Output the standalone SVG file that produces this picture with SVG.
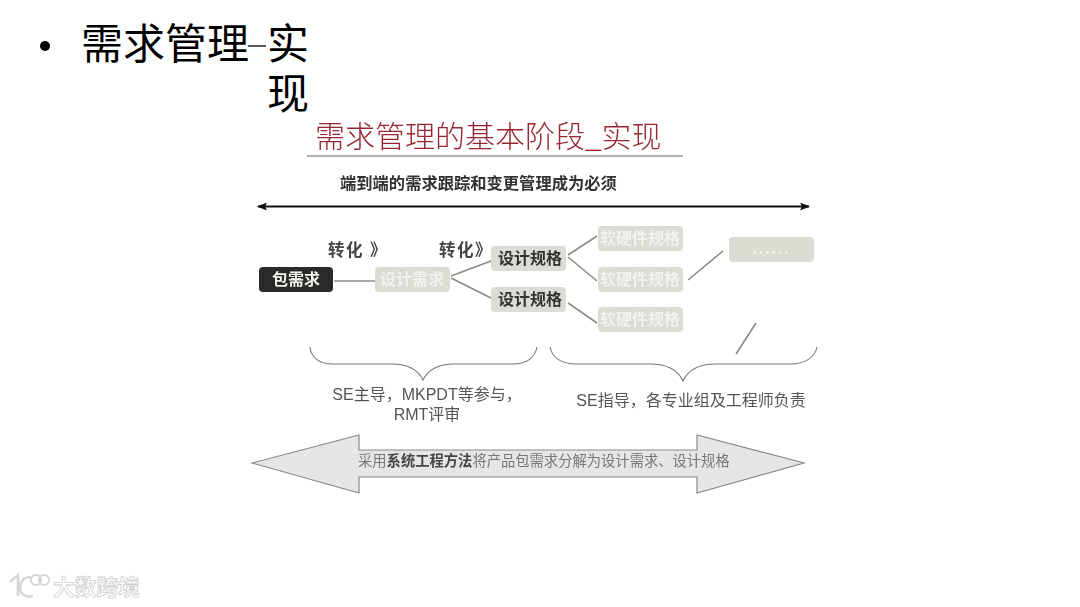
<svg xmlns="http://www.w3.org/2000/svg" width="1080" height="607" viewBox="0 0 1080 607">
<defs>
<marker id="ah" viewBox="0 0 10 8" refX="9" refY="4" markerWidth="10" markerHeight="8" markerUnits="userSpaceOnUse" orient="auto-start-reverse"><path d="M0 0L10 4L0 8L2 4Z" fill="#111"/></marker>
<filter id="soft" x="-2%" y="-2%" width="104%" height="104%"><feGaussianBlur stdDeviation="0.4"/></filter>
</defs>
<style>
text{font-family:"Noto Sans CJK SC","Liberation Sans",sans-serif}
.s{font-family:"Liberation Sans","Noto Sans CJK SC",sans-serif}
.c{stroke:#8a8a86;stroke-width:1.6;fill:none}
.b{stroke:#777;stroke-width:1.1;fill:none}
.box{fill:#dcdcd5}
.lt{fill:#f3f3ee;font-size:16px;font-weight:700;text-anchor:middle}
.dk{fill:#333;font-size:16px;font-weight:700;text-anchor:middle}
.lb{fill:#444;font-size:16.5px;font-weight:700}
.g{fill:#555;font-size:16px;text-anchor:middle}
</style>
<rect width="1080" height="607" fill="#fff"/>
<g id="heading">
<circle cx="45" cy="46" r="5" fill="#000"/>
<text x="81" y="59" font-size="42" fill="#000">需求管理</text>
<line x1="248" y1="46" x2="266" y2="46" stroke="#222" stroke-width="1.500"/>
<text x="267" y="59" font-size="42" fill="#000">实</text>
<text x="267" y="109" font-size="42" fill="#000">现</text>
</g>
<g filter="url(#soft)">
<g id="title">
<text x="315" y="147" font-size="30" font-weight="300" fill="#982830">需求管理的基本阶段_实现</text>
<line x1="307" y1="156" x2="683" y2="156" stroke="#999" stroke-width="1.3"/>
<text x="340" y="189" font-size="16.3" font-weight="700" fill="#333">端到端的需求跟踪和变更管理成为必须</text>
</g>
<g id="connectors">
<line x1="258" y1="206.500" x2="809" y2="206.500" stroke="#111" stroke-width="1.800" marker-start="url(#ah)" marker-end="url(#ah)"/>
<path class="c" d="M334 281H375M451 276L491 261M451 278L491 298M568 255L597 236M568 257L597 281M568 303L597 323M688 280L723 251M736 354L756 323"/>
<path class="b" d="M310 347C311 358 320 364 332 364H392C408 364 418 370 423 380C428 370 438 364 454 364H514C526 364 535 358 537 347"/>
<path class="b" d="M550 347C552 358 562 364 576 364H650C666 364 678 370 683 381C688 370 700 364 716 364H790C804 364 815 358 817 347"/>
</g>
<g id="node-pkg"><rect x="259" y="267" width="74" height="25" rx="4" fill="#2b2b29"/><text x="296" y="285" class="lt">包需求</text></g>
<g id="node-design-req"><rect class="box" x="375" y="267" width="75" height="25" rx="4"/><text x="412" y="285" class="lt">设计需求</text></g>
<g id="node-spec-1"><rect class="box" x="491" y="246" width="75" height="25" rx="4"/><text x="530" y="264" class="dk">设计规格</text></g>
<g id="node-spec-2"><rect class="box" x="491" y="287" width="75" height="25" rx="4"/><text x="530" y="305" class="dk">设计规格</text></g>
<g id="node-hw-1"><rect class="box" x="598" y="226" width="85" height="25" rx="4"/><text x="640" y="244" class="lt">软硬件规格</text></g>
<g id="node-hw-2"><rect class="box" x="598" y="267" width="85" height="25" rx="4"/><text x="640" y="285" class="lt">软硬件规格</text></g>
<g id="node-hw-3"><rect class="box" x="598" y="307" width="85" height="25" rx="4"/><text x="640" y="325" class="lt">软硬件规格</text></g>
<g id="node-more"><rect class="box" x="729" y="237" width="85" height="25" rx="4"/><text x="771" y="254" class="lt" font-size="12" letter-spacing="1">......</text></g>
<g id="labels">
<text x="328 346 370" y="256" class="lb">转化》</text>
<text x="439 457 475" y="256" class="lb">转化》</text>
<text x="427" y="400" class="g"><tspan class="s">SE</tspan>主导，<tspan class="s">MKPDT</tspan>等参与，</text>
<text x="427" y="420" class="g"><tspan class="s">RMT</tspan>评审</text>
<text x="691" y="406" class="g"><tspan class="s">SE</tspan>指导，各专业组及工程师负责</text>
</g>
<g id="band">
<path d="M252 463L359 435V450H697V435L804 463L697 493V477H359V493Z" fill="#e6e6e6" stroke="#8a8a8a" stroke-width="1.200"/>
<text x="358" y="466" font-size="14.300" fill="#777">采用<tspan font-weight="700" fill="#444">系统工程方法</tspan>将产品包需求分解为设计需求、设计规格</text>
</g>
</g>
<g id="watermark">
<path d="M10 582L18 575V596M32 578C24 575 20 582 20 588C20 594 26 598 33 596" fill="none" stroke="#d6d6d6" stroke-width="2.500"/>
<circle cx="36" cy="580" r="5" fill="none" stroke="#d6d6d6" stroke-width="2"/>
<circle cx="44" cy="580" r="5" fill="none" stroke="#d6d6d6" stroke-width="2"/>
<text x="53" y="595" font-size="21.700" font-weight="700" fill="#fff" stroke="#cfcfcf" stroke-width="0.800">大数跨境</text>
</g>
</svg>
